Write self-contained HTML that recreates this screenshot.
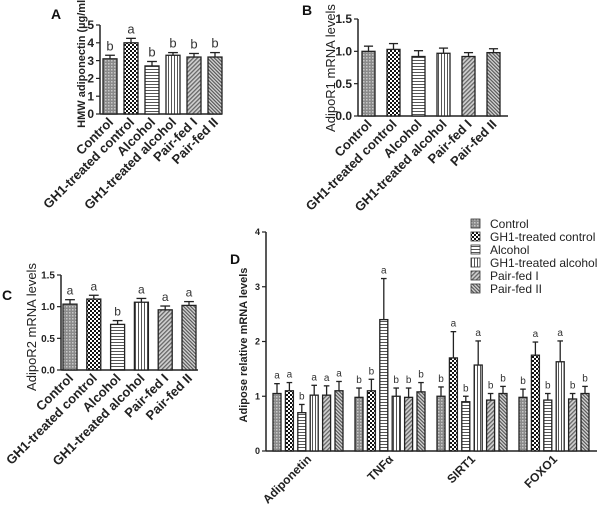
<!DOCTYPE html>
<html><head><meta charset="utf-8"><style>
html,body{margin:0;padding:0;background:#fff}
svg{display:block;font-family:"Liberation Sans",sans-serif}
</style></head><body>
<svg id="fig" width="600" height="511" viewBox="0 0 600 511" xmlns="http://www.w3.org/2000/svg">
<defs>
<pattern id="p0" width="3" height="3" patternUnits="userSpaceOnUse"><rect width="3" height="3" fill="#8a8a8a"/><rect width="1.5" height="1.5" fill="#c8c8c8"/></pattern>
<pattern id="p1" width="4" height="4" patternUnits="userSpaceOnUse"><rect width="4" height="4" fill="#fff"/><rect width="2" height="2" fill="#111"/><rect x="2" y="2" width="2" height="2" fill="#111"/></pattern>
<pattern id="p2" width="3" height="3" patternUnits="userSpaceOnUse"><rect width="3" height="3" fill="#fff"/><rect width="3" height="1" fill="#555"/></pattern>
<pattern id="p3" width="3" height="3" patternUnits="userSpaceOnUse"><rect width="3" height="3" fill="#fff"/><rect width="1" height="3" fill="#555"/></pattern>
<pattern id="p4" width="3" height="3" patternUnits="userSpaceOnUse" patternTransform="rotate(45)"><rect width="3" height="3" fill="#d0d0d0"/><rect width="1.3" height="3" fill="#666"/></pattern>
<pattern id="p5" width="2.5" height="2.5" patternUnits="userSpaceOnUse" patternTransform="rotate(-45)"><rect width="2.5" height="2.5" fill="#d8d8d8"/><rect width="1.2" height="2.5" fill="#555"/></pattern>
</defs>
</svg>
<script>
const groups = ["Control","GH1-treated control","Alcohol","GH1-treated alcohol","Pair-fed I","Pair-fed II"];
const aValues = [3.1,4.0,2.7,3.3,3.2,3.2];
const aErrors = [0.2,0.25,0.25,0.15,0.2,0.25];
const aLetters = ["b","a","b","b","b","b"];
const aTicks = ["0","1","2","3","4","5"];
const bValues = [1.0,1.03,0.92,0.97,0.92,0.98];
const bErrors = [0.08,0.09,0.09,0.08,0.06,0.06];
const bTicks = ["0.0","0.5","1.0","1.5"];
const cValues = [1.04,1.12,0.72,1.07,0.95,1.02];
const cErrors = [0.07,0.06,0.06,0.06,0.06,0.06];
const cLetters = ["a","a","b","a","a","a"];
const cTicks = ["0.0","0.5","1.0","1.5"];
const dGenes = ["Adiponetin","TNF\u03b1","SIRT1","FOXO1"];
const dAdipo = [1.05,1.1,0.7,1.02,1.02,1.1];
const dAdipoErr = [0.18,0.15,0.15,0.18,0.17,0.17];
const dTnf = [0.98,1.1,2.4,1.0,0.98,1.08];
const dTnfErr = [0.17,0.21,0.75,0.15,0.17,0.17];
const dSirt = [1.0,1.7,0.9,1.57,0.93,1.05];
const dSirtErr = [0.17,0.48,0.1,0.44,0.12,0.13];
const dFoxo = [0.98,1.75,0.93,1.63,0.95,1.05];
const dFoxoErr = [0.15,0.24,0.12,0.38,0.1,0.13];
const dLetters = [["a","a","b","a","a","a"],["b","b","a","b","b","b"],["b","a","b","a","b","b"],["b","a","b","a","b","b"]];
const dTicks = ["0","1","2","3","4"];

const svg = document.getElementById('fig');
const NS = "http://www.w3.org/2000/svg";
function mk(tag, at, txt){const e=document.createElementNS(NS,tag);for(const k in at)e.setAttribute(k,at[k]);if(txt!==undefined)e.textContent=txt;svg.appendChild(e);return e;}

function panel(cfg){
  const y=v=>cfg.y0-(v/cfg.max)*(cfg.y0-cfg.yTop);
  let e=mk('line',{x1:cfg.ax,y1:cfg.yTop,x2:cfg.ax,y2:cfg.y0,stroke:'#222','stroke-width':1.5});
  
  e=mk('line',{x1:cfg.ax,y1:cfg.y0,x2:cfg.xEnd,y2:cfg.y0,stroke:'#222','stroke-width':1.5});
  
  cfg.ticks.forEach(t=>{const yy=y(parseFloat(t));
    mk('line',{x1:cfg.ax-4,y1:yy,x2:cfg.ax,y2:yy,stroke:'#222','stroke-width':1.2});
    e=mk('text',{x:cfg.ax-6,y:yy+cfg.tf*0.35,'text-anchor':'end','font-size':cfg.tf,'font-weight':'bold',fill:'#222'},t);
    
  });
  cfg.bars.forEach(b=>{
    const top=y(b.v), et=y(b.v+b.e);
    e=mk('line',{x1:b.x+b.w/2,y1:top,x2:b.x+b.w/2,y2:et,stroke:'#222','stroke-width':1.3});
    
    mk('line',{x1:b.x+b.w/2-b.w*0.35,y1:et,x2:b.x+b.w/2+b.w*0.35,y2:et,stroke:'#222','stroke-width':1.3});
    e=mk('rect',{x:b.x,y:top,width:b.w,height:cfg.y0-top,fill:'url(#p'+b.g+')',stroke:'#222','stroke-width':1.3});
    
    if(b.l){e=mk('text',{x:b.x+b.w/2,y:et-5,'text-anchor':'middle','font-size':cfg.lf,fill:'#333'},b.l);
      }
  });
}
function catLabels(id,xs,y0,fs,labels,dx){
  labels.forEach((t,i)=>{const x=xs[i]+dx,yy=y0+9;
    const e=mk('text',{x:x,y:yy,'text-anchor':'end','font-size':fs,'font-weight':'bold',fill:'#222',transform:'rotate(-45 '+x+' '+yy+')'},t);
    });
}
function title(id,x,y,fs,w,t){const e=mk('text',{x:x,y:y,'text-anchor':'middle','font-size':fs,'font-weight':w,fill:'#222',transform:'rotate(-90 '+x+' '+y+')'},t);
  }
function plabel(t,x,y){const e=mk('text',{x:x,y:y,'font-size':14,'font-weight':'bold',fill:'#111'},t);
  }

// Panel A
let xs=groups.map((g,i)=>103+i*21);
panel({id:'panel-a',ax:100,y0:114,yTop:25,max:5,xEnd:222,ticks:aTicks,tf:12,lf:13,
  bars:aValues.map((v,i)=>({x:xs[i],w:14,v:v,e:aErrors[i],g:i,l:aLetters[i]}))});
catLabels('panel-a',xs.map(x=>x+7),114,13,groups,4);
title('panel-a',85,62,11,'bold','HMW adiponectin (\u00b5g/ml)');
plabel('A',51,19);

// Panel B
xs=groups.map((g,i)=>362+i*25);
panel({id:'panel-b',ax:358,y0:116,yTop:19,max:1.5,xEnd:508,ticks:bTicks,tf:12,lf:13,
  bars:bValues.map((v,i)=>({x:xs[i],w:13,v:v,e:bErrors[i],g:i}))});
catLabels('panel-b',xs.map(x=>x+6.5),116,13,groups,4);
title('panel-b',335,68,13,'normal','AdipoR1 mRNA levels');
plabel('B',302,15);

// Panel C
xs=groups.map((g,i)=>63+i*23.8);
panel({id:'panel-c',ax:61,y0:370,yTop:275,max:1.5,xEnd:198,ticks:cTicks,tf:10,lf:12,
  bars:cValues.map((v,i)=>({x:xs[i],w:14,v:v,e:cErrors[i],g:i,l:cLetters[i]}))});
catLabels('panel-c',xs.map(x=>x+7),370,13,groups,4);
title('panel-c',36,327,13,'normal','AdipoR2 mRNA levels');
plabel('C',2,300);

// Panel D
const dVals=[dAdipo,dTnf,dSirt,dFoxo], dErrs=[dAdipoErr,dTnfErr,dSirtErr,dFoxoErr];
const dBars=[], centers=[];
dVals.forEach((arr,gi)=>{arr.forEach((v,j)=>{dBars.push({x:273+gi*82+j*12.4,w:8,v:v,e:dErrs[gi][j],g:j,l:dLetters[gi][j]});});
  centers.push(273+gi*82+2.5*12.4+4);});
panel({id:'panel-d',ax:266,y0:451,yTop:232,max:4,xEnd:597,ticks:dTicks,tf:9,lf:10,bars:dBars});
catLabels('panel-d',centers,451,12,dGenes,4);
title('panel-d',247,345,11,'bold','Adipose relative mRNA levels');
plabel('D',230,264);

// Legend
groups.forEach((g,i)=>{const yy=219+i*13;
  let e=mk('rect',{x:471,y:yy,width:9,height:9,fill:'url(#p'+i+')',stroke:'#333','stroke-width':0.8});
  
  e=mk('text',{x:490,y:yy+9,'font-size':12,fill:'#222'},g);
  
});
</script>
</body></html>
